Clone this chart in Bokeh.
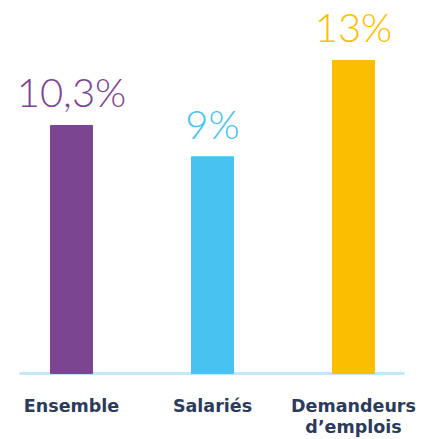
from bokeh.plotting import figure
from bokeh.models import Range1d, ColumnDataSource
from bokeh.core.properties import value
from bokeh.embed import file_html
from bokeh.resources import INLINE

categories = ["Ensemble", "Salariés", "Demandeurs\nd’emplois"]
values = [10.3, 9.0, 13.0]
value_labels = ["10,3%", "9%", "13%"]
colors = ["#7b4591", "#47c2f1", "#fbbe00"]
positions = [0, 1, 2]

src = ColumnDataSource(dict(x=positions, top=values, label=value_labels,
                            color=colors, cat=categories, zero=[0] * 3))

p = figure(width=434, height=439, output_backend="svg", toolbar_location=None,
           x_range=Range1d(-0.5035, 2.5745), y_range=Range1d(-2.741, 15.49),
           min_border=0, x_axis_type=None, y_axis_type=None)
p.xgrid.visible = False
p.ygrid.visible = False
p.outline_line_color = None

# baseline
p.segment(x0=[positions[0] - 0.369], x1=[positions[-1] + 0.362], y0=[0], y1=[0],
          line_color="#c4e6f6", line_width=3)

p.vbar(x="x", top="top", bottom=0, width=0.298, color="color", source=src)

p.text(x="x", y="top", text="label", text_color="color", source=src,
       text_align="center", text_baseline="bottom", y_offset=-9,
       text_font=value("Lato Light"), text_font_size="40px")

p.text(x="x", y="zero", text="cat", source=src, text_align="center",
       text_baseline="top", y_offset=23, text_font=value("DejaVu Sans"),
       text_font_style="bold", text_font_size="17.5px", text_color="#2c3a5c",
       text_line_height=1.05)

open("out.html", "w").write(file_html(p, INLINE))
